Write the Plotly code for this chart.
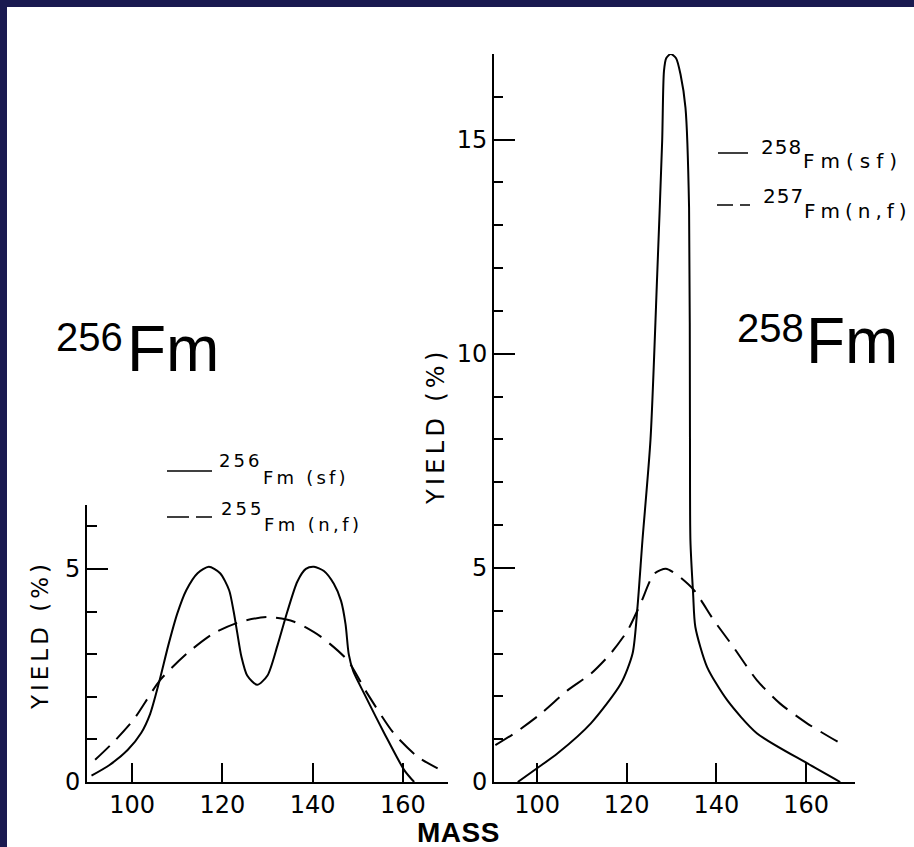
import plotly.graph_objects as go

W, H = 914, 847

# ---------------- data ----------------
# 256Fm(sf) -- left panel, solid
mass_256_sf = [91, 95, 99, 102, 104, 106, 108, 110, 112, 114.5, 117, 119.5, 121.5, 122.5,
               123.3, 124.2, 125.5, 127.7, 130, 132.2, 134.4, 136.6, 138.5, 140.3, 142.5,
               144.7, 146.3, 147.3, 148, 149, 151.4, 155.9, 160.3, 162.5]
yield_256_sf = [0.15, 0.4, 0.75, 1.15, 1.6, 2.35, 3.2, 3.95, 4.5, 4.9, 5.05, 4.9, 4.5, 4.0,
                3.5, 2.95, 2.5, 2.28, 2.5, 3.2, 4.0, 4.7, 5.0, 5.05, 4.95,
                4.65, 4.25, 3.7, 3.0, 2.6, 2.08, 1.14, 0.28, 0.0]

# 255Fm(n,f) -- left panel, dashed
mass_255_nf = [91.8, 96, 100.3, 106.2, 112.2, 118.1, 124, 130, 135.9, 141.8, 147.7, 152.1,
               158, 163.3, 167.7]
yield_255_nf = [0.52, 0.95, 1.46, 2.39, 3.02, 3.49, 3.76, 3.87, 3.76, 3.41, 2.86, 2.08,
                1.14, 0.59, 0.32]

# 258Fm(sf) -- right panel, solid
mass_258_sf = [95.7, 100, 104.6, 112, 118.7, 121.3, 122.4, 123.5, 125.3, 126.8, 127.9, 128.3,
               128.8, 129.8, 131, 132, 133.1, 133.9, 134.1, 134.2, 134.8, 135.3, 137.9,
               142.4, 149, 160.2, 167.6]
yield_258_sf = [0.0, 0.32, 0.67, 1.37, 2.30, 3.0, 4.09, 5.64, 8.0, 11.86, 14.97, 16.6,
                16.9, 17.0, 16.9, 16.52, 15.74, 13.41, 8.05, 5.64, 4.40, 3.62, 2.69,
                1.91, 1.14, 0.44, 0.0]

# 257Fm(n,f) -- right panel, dashed
mass_257_nf = [90.7, 95, 100.9, 106.8, 112, 116.4, 120.2, 123.1, 126.1, 128.7, 131.3, 135,
               139.4, 143.8, 149, 154.2, 160.2, 169]
yield_257_nf = [0.86, 1.14, 1.60, 2.14, 2.53, 3.0, 3.54, 4.17, 4.86, 4.98, 4.83, 4.48,
                3.78, 3.15, 2.38, 1.83, 1.37, 0.82]

mass_ticks = [100, 120, 140, 160]
left_yield_ticks = [0, 5]
left_yield_minor = [1, 2, 3, 4, 6]
right_yield_ticks = [0, 5, 10, 15]
right_yield_minor = [1, 2, 3, 4, 6, 7, 8, 9, 11, 12, 13, 14, 16, 17]

# ---------------- helpers ----------------
def px(x):
    return x / W

def py(y):
    return 1 - y / H

NAVY = "#1a1a50"
TICKFONT = dict(family="DejaVu Sans", size=24, color="black")

solid = dict(color="black", width=2, shape="spline", smoothing=0.7)
dashed = dict(color="black", width=2, shape="spline", smoothing=0.7, dash="20px,10px")

fig = go.Figure()
fig.add_trace(go.Scatter(x=mass_256_sf, y=yield_256_sf, mode="lines", line=solid,
                         xaxis="x", yaxis="y", name="256Fm(sf)"))
fig.add_trace(go.Scatter(x=mass_255_nf, y=yield_255_nf, mode="lines", line=dashed,
                         xaxis="x", yaxis="y", name="255Fm(n,f)"))
fig.add_trace(go.Scatter(x=mass_258_sf, y=yield_258_sf, mode="lines", line=solid,
                         xaxis="x2", yaxis="y2", name="258Fm(sf)"))
fig.add_trace(go.Scatter(x=mass_257_nf, y=yield_257_nf, mode="lines", line=dashed,
                         xaxis="x2", yaxis="y2", name="257Fm(n,f)"))

common_x = dict(showline=True, linecolor="black", linewidth=2, ticks="inside", ticklen=19,
                tickwidth=2, tickcolor="black", tickvals=mass_ticks, tickfont=TICKFONT,
                showgrid=False, zeroline=False, fixedrange=True, automargin=False)
common_y = dict(showline=True, linecolor="black", linewidth=2, ticks="inside", ticklen=21,
                tickwidth=2, tickcolor="black", tickfont=TICKFONT, showgrid=False,
                zeroline=False, fixedrange=True, automargin=False)

fig.update_layout(
    width=W, height=H,
    margin=dict(l=0, r=0, t=0, b=0, pad=0, autoexpand=False),
    paper_bgcolor=NAVY,
    plot_bgcolor="white",
    showlegend=False,
    xaxis=dict(domain=[px(87), px(448)], range=[90, 170], anchor="y", **common_x),
    yaxis=dict(domain=[py(782), py(505)], range=[0, 6.5], anchor="x",
               tickvals=left_yield_ticks,
               minor=dict(tickvals=left_yield_minor, ticks="inside", ticklen=10,
                          tickwidth=1.5, tickcolor="black"),
               **common_y),
    xaxis2=dict(domain=[px(494), px(855)], range=[90.4, 170.9], anchor="y2", **common_x),
    yaxis2=dict(domain=[py(782), py(54)], range=[0, 17], anchor="x2",
                tickvals=right_yield_ticks,
                minor=dict(tickvals=right_yield_minor, ticks="inside", ticklen=9,
                           tickwidth=1.5, tickcolor="black"),
                **common_y),
)

shapes = [
    dict(type="rect", xref="paper", yref="paper", x0=px(7), x1=1, y0=0, y1=py(7),
         fillcolor="white", line=dict(width=0), layer="below"),
    # legend samples
    dict(type="line", xref="paper", yref="paper", x0=px(167), x1=px(212), y0=py(471), y1=py(471),
         line=dict(color="black", width=1.5)),
    dict(type="line", xref="paper", yref="paper", x0=px(167), x1=px(212), y0=py(517), y1=py(517),
         line=dict(color="black", width=1.5, dash="22px,7px")),
    dict(type="line", xref="paper", yref="paper", x0=px(718), x1=px(748), y0=py(153), y1=py(153),
         line=dict(color="black", width=1.5)),
    dict(type="line", xref="paper", yref="paper", x0=px(717), x1=px(750), y0=py(205), y1=py(205),
         line=dict(color="black", width=1.5, dash="16px,7px")),
]
fig.update_layout(shapes=shapes)

def ann(text, x, y, size, family="DejaVu Sans", xanchor="center", angle=0, spacing=None, bold=False):
    t = text
    if bold:
        t = "<b>" + t + "</b>"
    if spacing:
        t = '<span style="letter-spacing:%spx">%s</span>' % (spacing, t)
    return dict(text=t, x=px(x), y=py(y), xref="paper", yref="paper", showarrow=False,
                xanchor=xanchor, yanchor="middle", textangle=angle, borderpad=0,
                font=dict(family=family, size=size, color="black"))

annotations = [
    # big nuclide labels
    ann("256", 89, 337.5, 40, family="Liberation Sans"),
    ann("Fm", 172.5, 348.5, 64, family="Liberation Sans"),
    ann("258", 770.5, 328, 40, family="Liberation Sans"),
    ann("Fm", 851.5, 340.5, 64, family="Liberation Sans"),
    # axis titles
    ann("YIELD (%)", 40, 635, 23, angle=-90, spacing=4),
    ann("YIELD (%)", 436, 426, 24, angle=-90, spacing=4.3),
    ann("MASS", 458, 832, 28, family="Liberation Sans", bold=True, spacing=0.5),
    # left legend
    ann("256", 218, 460, 18, xanchor="left", spacing=3),
    ann("Fm (sf)", 262, 477.5, 18, xanchor="left", spacing=3.2),
    ann("255", 220, 508.5, 18, xanchor="left", spacing=3),
    ann("Fm (n,f)", 263, 524, 18, xanchor="left", spacing=3.4),
    # right legend
    ann("258", 760, 146.5, 20, xanchor="left", spacing=1),
    ann("Fm(sf)", 802, 160.5, 20, xanchor="left", spacing=6),
    ann("257", 762, 196.5, 20, xanchor="left", spacing=1),
    ann("Fm(n,f)", 803, 210.5, 20, xanchor="left", spacing=5),
]
fig.update_layout(annotations=annotations)

fig.write_html("out.html", config={"displayModeBar": False},
               post_script="document.body.style.margin='0';document.body.style.overflow='hidden';")
